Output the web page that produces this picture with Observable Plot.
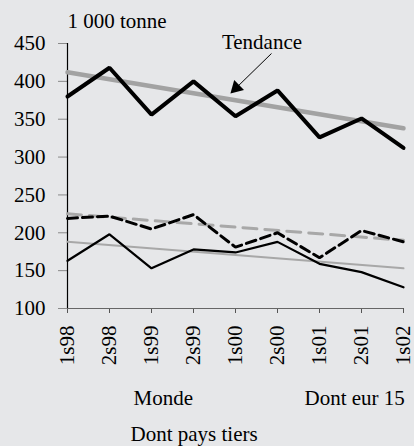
<!DOCTYPE html>
<html><head><meta charset="utf-8">
<script src="https://cdn.jsdelivr.net/npm/d3@7"></script>
<script src="https://cdn.jsdelivr.net/npm/@observablehq/plot@0.6"></script>
<style>
html,body{margin:0;padding:0;background:#e6e7e9;font-family:'Times New Roman','Liberation Serif',serif;}
svg text{font-family:'Times New Roman','Liberation Serif',serif !important;}
</style></head><body>
<script>
// categories
const periods = ["1s98","2s98","1s99","2s99","1s00","2s00","1s01","2s01","1s02"];
// series values (1 000 tonnes)
const monde     = [380, 418, 356, 400, 354, 388, 326, 351, 312];
const eur15     = [219, 222, 205, 224, 181, 200, 167, 203, 188];
const paysTiers = [163, 198, 153, 178, 174, 188, 159, 148, 128];
// trend lines (start / end)
const mondeTrend = [{period:"1s98", value:412}, {period:"1s02", value:338}];
const eur15Trend = [{period:"1s98", value:225}, {period:"1s02", value:190}];
const tiersTrend = [{period:"1s98", value:188}, {period:"1s02", value:153}];
// y tick labels
const yTicks = [100, 150, 200, 250, 300, 350, 400, 450];
// texts
const unitLabel = "1 000 tonne";
const legendLabels = ["Monde", "Dont eur 15", "Dont pays tiers"];
const noteLabel = "Tendance";
// annotation anchor points (data space: period index, value)
const noteText  = [{x: 4.63, y: 451.3}];
const noteArrow = [{x1: 4.857, y1: 436.8, x2: 4.017, y2: 391.4}];

const xi = d => periods.indexOf(d.period);
const ff = "'Times New Roman', 'Liberation Serif', serif";

const plot = Plot.plot({
  width: 414, height: 446,
  marginLeft: 67, marginRight: 11, marginTop: 43, marginBottom: 138,
  style: {background: "#e6e7e9", fontFamily: ff, fontSize: "21px", color: "black"},
  x: {domain: [0, periods.length - 1], axis: null},
  y: {domain: [100, 450], axis: null},
  marks: [
    Plot.axisY({ticks: yTicks, tickSize: 9, tickPadding: 13, tickFormat: d => String(d), label: null, stroke: "#8a8a8a", strokeOpacity: 1, fill: "black", fontSize: 21, fontFamily: ff}),
    Plot.axisX({ticks: d3.range(periods.length), tickFormat: i => periods[i], tickSize: 5, tickPadding: 12, tickRotate: -90, label: null, stroke: "#555", strokeOpacity: 1, fill: "black", fontSize: 21, fontFamily: ff}),
    Plot.ruleY([100], {stroke: "#666", strokeWidth: 1.2}),
    Plot.ruleX([0], {stroke: "black", strokeWidth: 1.2}),
    // trends
    Plot.line(mondeTrend, {x: xi, y: "value", stroke: "#a2a2a2", strokeWidth: 4.5}),
    Plot.line(eur15Trend, {x: xi, y: "value", stroke: "#a8a8a8", strokeWidth: 3, strokeDasharray: "14,8"}),
    Plot.line(tiersTrend, {x: xi, y: "value", stroke: "#a8a8a8", strokeWidth: 2}),
    // series
    Plot.lineY(paysTiers, {stroke: "black", strokeWidth: 2.2, strokeLinejoin: "miter"}),
    Plot.lineY(eur15, {stroke: "black", strokeWidth: 3, strokeDasharray: "10,5", strokeLinejoin: "miter"}),
    Plot.lineY(monde, {stroke: "black", strokeWidth: 4, strokeLinejoin: "miter"}),
    // annotation
    Plot.text(noteText, {x: "x", y: "y", text: () => noteLabel, fontSize: 21, fontFamily: ff, fill: "black", lineAnchor: "middle"}),
    Plot.link(noteArrow, {x1: "x1", y1: "y1", x2: "x2", y2: "y2", stroke: "black", strokeWidth: 1}),
    Plot.dot(noteArrow, {x: "x2", y: "y2", symbol: "triangle", r: 5.2, fill: "black", stroke: "none", rotate: 225.7}),
    // unit title
    Plot.text([unitLabel], {frameAnchor: "top-left", textAnchor: "start", lineAnchor: "middle", dy: -22.7, fontSize: 21, fontFamily: ff, fill: "black"}),
    // legend
    Plot.text([legendLabels[0]], {frameAnchor: "bottom-left", textAnchor: "start", lineAnchor: "middle", dx: 66, dy: 89.3, fontSize: 21, fontFamily: ff, fill: "black"}),
    Plot.text([legendLabels[1]], {frameAnchor: "bottom-left", textAnchor: "start", lineAnchor: "middle", dx: 237, dy: 89.3, fontSize: 21, fontFamily: ff, fill: "black"}),
    Plot.text([legendLabels[2]], {frameAnchor: "bottom-left", textAnchor: "start", lineAnchor: "middle", dx: 63, dy: 126, fontSize: 21, fontFamily: ff, fill: "black"})
  ]
});
document.body.appendChild(plot);
</script></body></html>
